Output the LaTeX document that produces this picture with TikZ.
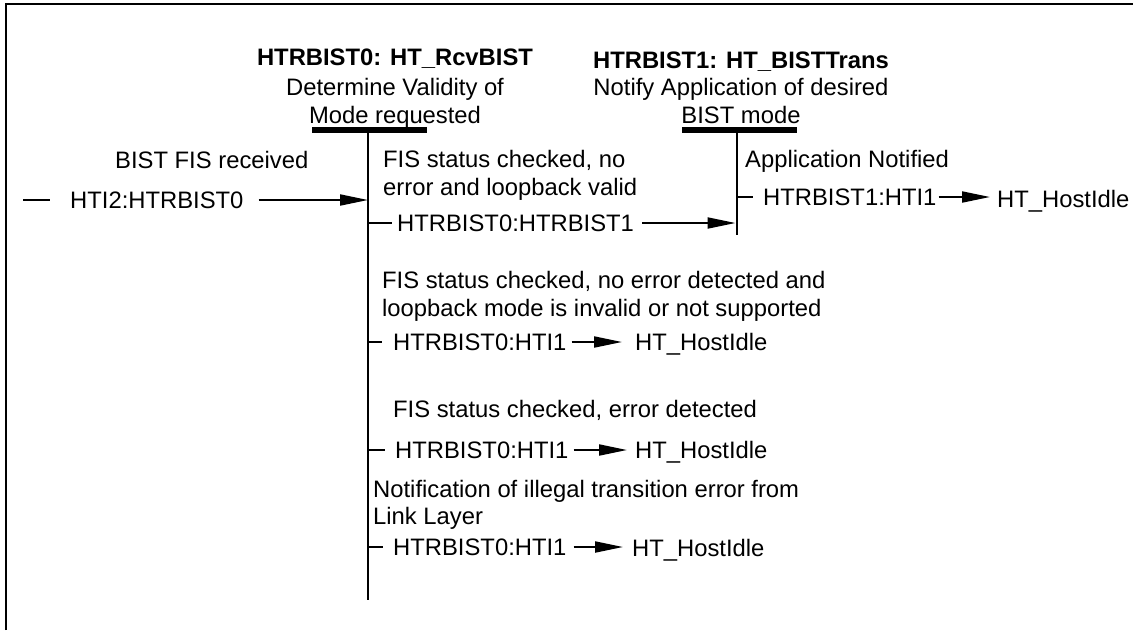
\documentclass[tikz,border=0pt]{standalone}
\usepackage{fontspec}
\setmainfont{Liberation Sans}
\usetikzlibrary{arrows.meta,calc}
\begin{document}
\begin{tikzpicture}[x=1pt,y=-1pt,
  lbl/.style={inner sep=0pt,font=\fontsize{23.8}{28}\selectfont},
  ttl/.style={lbl,anchor=base,font=\fontsize{23.8}{28}\selectfont\bfseries},
  sub/.style={lbl,anchor=base},
  txt/.style={lbl,anchor=base west},
  trn/.style={lbl,anchor=west},
  bar/.style={fill=black,inner sep=0pt,minimum height=5.5pt},
  vline/.style={line width=2.6pt},
  conn/.style={line width=2pt},
  arr/.style={conn,-{Triangle[length=28pt,width=11pt]}},
  border/.style={line width=2pt}]
\useasboundingbox (0,0) rectangle (1133,630);
\draw[border] (6,630) -- (6,3.5) -- (1133,3.5);

% state 0
\node[ttl] (s0a) at (395,65) {HTRBIST0: HT\_RcvBIST};
\node[sub] (s0b) at (395,95) {Determine Validity of};
\node[sub] (s0c) at (395,123) {Mode requested};
\node[bar,minimum width=115pt] (bar0) at (369.5,130) {};
\coordinate (s0) at (368,130);
\coordinate (s0end) at (368,600);
\draw[vline] (s0) -- (s0end);

% state 1
\node[ttl] (s1a) at (741,68) {HTRBIST1: HT\_BISTTrans};
\node[sub] (s1b) at (741,95) {Notify Application of desired};
\node[sub] (s1c) at (741,123) {BIST mode};
\node[bar,minimum width=115pt] (bar1) at (739.5,130) {};
\coordinate (s1) at (737,130);
\coordinate (s1end) at (737,235);
\draw[vline] (s1) -- (s1end);

% conditions
\node[txt] (bist) at (115,168.5) {BIST FIS received};
\node[txt] (c1a) at (383,167) {FIS status checked, no};
\node[txt] (c1b) at (383,195) {error and loopback valid};
\node[txt] (app) at (745,167) {Application Notified};
\node[txt] (c2a) at (382,288) {FIS status checked, no error detected and};
\node[txt] (c2b) at (382,316) {loopback mode is invalid or not supported};
\node[txt] (c3) at (393,417) {FIS status checked, error detected};
\node[txt] (c4a) at (373,497) {Notification of illegal transition error from};
\node[txt] (c4b) at (373,524) {Link Layer};

% transitions
\node[trn] (t0) at (70,200) {HTI2:HTRBIST0};
\coordinate (in0) at (23,200);
\draw[conn] (in0) -- ([xshift=-20pt]t0.west);
\draw[arr] ([xshift=15pt]t0.east) -- (t0.east -| s0);

\node[trn] (t1) at (397,223) {HTRBIST0:HTRBIST1};
\draw[conn] (t1.west -| s0) -- ([xshift=-5pt]t1.west);
\draw[arr] ([xshift=8pt]t1.east) -- ($(t1.east -| s1)+(-1.5,0)$);

\node[trn] (t2) at (763,197) {HTRBIST1:HTI1};
\node[txt] (h2) at (997,207) {HT\_HostIdle};
\draw[conn] (t2.west -| s1) -- ([xshift=-10pt]t2.west);
\draw[arr] ([xshift=2pt]t2.east) -- ($(h2.west |- t2.east)+(-7,0)$);

\node[trn] (t3) at (393,342) {HTRBIST0:HTI1};
\node[txt] (h3) at (635,350) {HT\_HostIdle};
\draw[conn] (t3.west -| s0) -- ([xshift=-11pt]t3.west);
\draw[arr] ([xshift=5pt]t3.east) -- ($(h3.west |- t3.east)+(-13,0)$);

\node[trn] (t4) at (395,450) {HTRBIST0:HTI1};
\node[txt] (h4) at (635,458) {HT\_HostIdle};
\draw[conn] (t4.west -| s0) -- ([xshift=-10pt]t4.west);
\draw[arr] ([xshift=5pt]t4.east) -- ($(h4.west |- t4.east)+(-8,0)$);

\node[trn] (t5) at (393,547) {HTRBIST0:HTI1};
\node[txt] (h5) at (632,556) {HT\_HostIdle};
\draw[conn] (t5.west -| s0) -- ([xshift=-10pt]t5.west);
\draw[arr] ([xshift=7pt]t5.east) -- ($(h5.west |- t5.east)+(-9,0)$);
\end{tikzpicture}
\end{document}
